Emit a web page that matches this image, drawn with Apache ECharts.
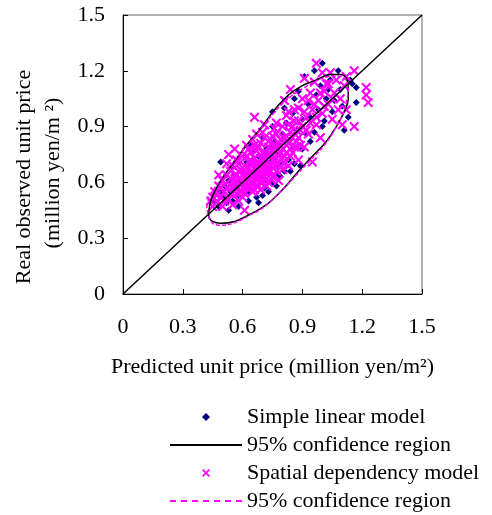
<!DOCTYPE html>
<html>
<head>
<meta charset="utf-8">
<script src="https://cdn.jsdelivr.net/npm/echarts@6/dist/echarts.min.js"></script>
<style>
  html, body { margin: 0; padding: 0; background: #fff; }
  #chart { width: 492px; height: 515px; }
</style>
</head>
<body>
<div id="chart"></div>
<script>
// axis ticks
const ticks = [0, 0.3, 0.6, 0.9, 1.2, 1.5];

// Simple linear model: [predicted, observed]
const linearPts = [
  [0.46,0.50],[0.48,0.47],[0.49,0.55],[0.50,0.52],[0.51,0.58],[0.52,0.49],[0.53,0.61],[0.54,0.55],
  [0.55,0.50],[0.56,0.64],[0.57,0.57],[0.58,0.53],[0.59,0.60],[0.49,0.71],[0.55,0.68],[0.60,0.66],
  [0.58,0.47],[0.53,0.45],[0.61,0.58],[0.62,0.63],[0.63,0.55],[0.64,0.70],[0.65,0.60],[0.66,0.66],
  [0.67,0.52],[0.68,0.74],[0.69,0.62],[0.70,0.68],[0.71,0.57],[0.72,0.78],[0.73,0.65],[0.74,0.71],
  [0.75,0.60],[0.76,0.82],[0.77,0.69],[0.78,0.75],[0.79,0.63],[0.80,0.86],[0.62,0.71],[0.66,0.77],
  [0.70,0.84],[0.73,0.55],[0.77,0.58],[0.81,0.66],[0.68,0.49],[0.64,0.80],[0.75,0.90],[0.71,0.73],
  [0.67,0.69],[0.74,0.79],[0.79,0.71],[0.83,0.72],[0.86,0.70],[0.85,0.78],[0.89,0.69],[0.82,0.92],
  [0.84,0.83],[0.85,0.97],[0.87,0.88],[0.88,1.09],[0.90,0.94],[0.91,1.17],[0.92,0.86],[0.93,1.02],
  [0.94,0.95],[0.96,1.20],[0.96,0.87],[0.97,1.07],[0.98,0.99],[0.99,1.12],[1.00,1.24],[1.01,0.93],
  [1.02,1.05],[1.04,1.15],[1.05,0.98],[1.06,1.04],[1.08,1.20],[1.09,1.10],[1.10,1.01],[1.11,0.88],
  [1.13,0.95],[1.15,1.13],[1.17,1.11],[1.17,1.03],[1.14,1.15],[0.90,0.78],[0.94,0.82],[1.00,0.90],
  [0.81,1.00],[0.75,0.98],[0.86,1.05],[1.03,1.10],[0.72,0.61],[0.78,0.64],[0.84,0.66],[0.70,0.53],
  [0.63,0.50]
];

// Spatial dependency model: [predicted, observed]
const spatialPts = [
  [0.44,0.50],[0.45,0.47],[0.45,0.52],[0.46,0.55],[0.47,0.49],[0.48,0.58],[0.49,0.52],[0.50,0.61],
  [0.50,0.47],[0.51,0.55],[0.52,0.64],[0.53,0.51],[0.53,0.75],[0.54,0.58],[0.55,0.69],[0.55,0.48],
  [0.56,0.62],[0.57,0.54],[0.57,0.72],[0.58,0.66],[0.59,0.59],[0.60,0.74],[0.60,0.52],[0.48,0.64],
  [0.52,0.70],[0.56,0.78],[0.58,0.50],[0.61,0.45],[0.61,0.63],[0.62,0.68],[0.62,0.57],[0.63,0.78],
  [0.63,0.61],[0.64,0.65],[0.64,0.72],[0.65,0.55],[0.65,0.83],[0.66,0.62],[0.66,0.95],[0.67,0.70],
  [0.67,0.58],[0.68,0.66],[0.68,0.79],[0.69,0.73],[0.69,0.60],[0.70,0.64],[0.70,0.87],[0.71,0.69],
  [0.71,0.76],[0.72,0.58],[0.72,0.66],[0.73,0.82],[0.73,0.70],[0.74,0.62],[0.74,0.75],[0.75,0.68],
  [0.75,0.85],[0.76,0.64],[0.76,0.72],[0.77,0.79],[0.77,0.92],[0.78,0.70],[0.78,0.61],[0.79,0.83],
  [0.79,0.76],[0.80,0.67],[0.80,0.90],[0.81,0.74],[0.82,0.80],[0.82,0.96],[0.83,0.69],[0.84,0.87],
  [0.84,1.10],[0.85,0.76],[0.86,0.93],[0.87,0.82],[0.88,1.00],[0.88,0.72],[0.89,0.88],[0.90,1.05],
  [0.91,0.79],[0.91,1.16],[0.92,0.95],[0.93,0.86],[0.94,1.08],[0.95,0.71],[0.95,0.99],[0.96,1.14],
  [0.97,1.24],[0.97,0.91],[0.98,1.04],[0.99,0.84],[1.00,1.19],[1.00,0.97],[1.01,1.09],[1.02,1.13],
  [1.03,1.02],[1.04,1.19],[1.05,0.94],[1.06,1.08],[1.07,1.15],[1.08,0.99],[1.09,1.05],[1.10,0.91],
  [1.11,1.12],[1.12,1.17],[1.16,1.20],[1.16,0.90],[1.22,1.11],[1.23,1.03],[1.22,1.07],[1.12,0.99],
  [0.87,0.79],[0.83,0.98],[0.76,0.89],[0.81,1.04],[0.67,0.86],[0.71,0.91],[0.62,0.80],[0.66,0.67],
  [0.69,0.68],[0.72,0.72],[0.74,0.69],[0.68,0.63],[0.70,0.72],[0.73,0.66],[0.76,0.76],[0.64,0.60],
  [0.60,0.64],[0.58,0.62],[0.62,0.60],[0.65,0.70],[0.71,0.63],[0.77,0.73],[0.79,0.80],[0.75,0.78],
  [0.82,0.85],[0.85,0.90],[0.88,0.84],[0.47,0.53],[0.49,0.57],[0.51,0.50],[0.52,0.57],[0.54,0.62],
  [0.55,0.54],[0.56,0.58],[0.57,0.64],[0.58,0.70],[0.59,0.55],[0.59,0.67],[0.60,0.60],[0.61,0.69],
  [0.61,0.54],[0.62,0.65],[0.63,0.58],[0.63,0.71],[0.64,0.63],[0.64,0.76],[0.65,0.66],[0.65,0.59],
  [0.66,0.73],[0.66,0.56],[0.67,0.64],[0.67,0.77],[0.68,0.70],[0.68,0.58],[0.69,0.65],[0.69,0.81],
  [0.70,0.60],[0.70,0.76],[0.71,0.66],[0.71,0.84],[0.72,0.69],[0.72,0.62],[0.73,0.75],[0.73,0.60],
  [0.74,0.66],[0.74,0.83],[0.75,0.72],[0.75,0.63],[0.76,0.69],[0.76,0.80],[0.77,0.66],[0.77,0.86],
  [0.78,0.74],[0.78,0.81],[0.79,0.68],[0.80,0.78],[0.80,0.73],[0.81,0.84],[0.81,0.70],[0.82,0.76],
  [0.83,0.91],[0.83,0.81],[0.84,0.74],[0.85,0.84],[0.86,0.79],[0.86,0.99],[0.87,0.88],[0.88,0.93],
  [0.89,0.80],[0.90,0.90],[0.91,0.98],[0.92,0.88],[0.93,1.04],[0.94,0.92],[0.96,1.02],[0.97,0.95],
  [0.99,1.08],[1.01,1.01],[1.03,1.13],[1.05,1.05],[0.54,0.66],[0.57,0.60],[0.60,0.57],[0.62,0.74],
  [0.66,0.80],[0.69,0.56],[0.73,0.79]
];

// 95% confidence region outlines
const linearRegion = [
  [0.43,0.44],[0.44,0.50],[0.46,0.55],[0.49,0.61],[0.55,0.70],[0.62,0.80],[0.69,0.89],[0.76,0.99],
  [0.83,1.07],[0.90,1.12],[0.97,1.15],[1.04,1.18],[1.09,1.18],[1.12,1.16],[1.13,1.11],[1.13,1.05],
  [1.11,0.98],[1.07,0.90],[1.02,0.82],[0.95,0.74],[0.88,0.66],[0.80,0.56],[0.72,0.48],[0.64,0.43],
  [0.56,0.39],[0.49,0.38],[0.45,0.39],[0.43,0.42],[0.43,0.44]
];
const spatialRegion = [
  [0.42,0.47],[0.43,0.52],[0.46,0.57],[0.50,0.63],[0.56,0.72],[0.63,0.81],[0.70,0.90],[0.77,0.99],
  [0.84,1.06],[0.91,1.11],[0.98,1.15],[1.04,1.17],[1.09,1.17],[1.12,1.15],[1.13,1.10],[1.12,1.03],
  [1.10,0.96],[1.06,0.88],[1.01,0.80],[0.94,0.72],[0.87,0.64],[0.79,0.55],[0.71,0.47],[0.63,0.42],
  [0.55,0.38],[0.49,0.37],[0.45,0.38],[0.43,0.42],[0.42,0.47]
];

// 45 degree reference line
const diagonal = [[0, 0], [1.5, 1.5]];

const FONT = 'Liberation Serif';
const xMark = 'path://M0,1.8L1.8,0L6,4.2L10.2,0L12,1.8L7.8,6L12,10.2L10.2,12L6,7.8L1.8,12L0,10.2L4.2,6Z';
const dotMark = 'path://M5,0L10,5L5,10L0,5Z';

const chart = echarts.init(document.getElementById('chart'));

const axisCommon = {
  type: 'value',
  min: ticks[0],
  max: ticks[ticks.length - 1],
  interval: 0.3,
  axisLine: { show: true, lineStyle: { color: '#000', width: 1 } },
  axisTick: { show: true, inside: true, length: 5, lineStyle: { color: '#000' } },
  splitLine: { show: false },
};

chart.setOption({
  animation: false,
  backgroundColor: '#fff',
  textStyle: { fontFamily: FONT },
  grid: {
    left: 123, top: 15, right: 70, bottom: 221,
    show: true, borderColor: '#666', borderWidth: 1,
    outerBoundsMode: 'none',
  },
  xAxis: Object.assign({}, axisCommon, {
    axisLabel: { margin: 22, color: '#000', fontSize: 22, fontFamily: FONT },
    name: 'Predicted unit price (million yen/m²)',
    nameLocation: 'middle',
    nameGap: 62,
    nameTextStyle: { color: '#000', fontSize: 22, fontFamily: FONT },
  }),
  yAxis: Object.assign({}, axisCommon, {
    axisLabel: { margin: 18, color: '#000', fontSize: 22, fontFamily: FONT },
  }),
  graphic: [
    {
      type: 'text', x: 24, y: 177, rotation: Math.PI / 2,
      style: { text: 'Real observed unit price', align: 'center', verticalAlign: 'middle',
               font: '22px "Liberation Serif"', fill: '#000' },
    },
    {
      type: 'text', x: 53, y: 173, rotation: Math.PI / 2,
      style: { text: '(million yen/m ²)', align: 'center', verticalAlign: 'middle',
               font: '22px "Liberation Serif"', fill: '#000' },
    },
  ],
  legend: {
    orient: 'vertical',
    left: 170,
    top: 406,
    itemWidth: 72,
    itemHeight: 8,
    itemGap: 6,
    padding: 0,
    textStyle: { color: '#000', fontSize: 22, fontFamily: FONT },
    formatter: function (name) {
      return name.replace(/ \((linear|spatial)\)$/, '');
    },
    data: [
      { name: 'Simple linear model', icon: dotMark },
      { name: '95% confidence region (linear)', icon: 'path://M0,0H72V2H0Z' },
      { name: 'Spatial dependency model', icon: xMark },
      { name: '95% confidence region (spatial)',
        icon: 'path://M0,0h6v2h-6zM11,0h6v2h-6zM22,0h6v2h-6zM33,0h6v2h-6zM44,0h6v2h-6zM55,0h6v2h-6zM66,0h6v2h-6z' },
    ],
  },
  series: [
    {
      name: 'Simple linear model',
      type: 'scatter',
      data: linearPts,
      symbol: 'diamond',
      symbolSize: 7,
      itemStyle: { color: '#000080', opacity: 1 },
      z: 2,
    },
    {
      name: '95% confidence region (linear)',
      type: 'line',
      data: linearRegion,
      smooth: 0.4,
      symbol: 'none',
      itemStyle: { color: '#000' },
      lineStyle: { color: '#000', width: 1.5 },
      z: 5,
    },
    {
      name: 'Spatial dependency model',
      type: 'scatter',
      data: spatialPts,
      symbol: xMark,
      symbolSize: 10,
      itemStyle: { color: '#ff00ff', opacity: 1 },
      z: 3,
    },
    {
      name: '95% confidence region (spatial)',
      type: 'line',
      data: spatialRegion,
      smooth: 0.4,
      symbol: 'none',
      itemStyle: { color: '#ff00ff' },
      lineStyle: { color: '#ff00ff', width: 1.5, type: [4, 2] },
      z: 6,
    },
    {
      name: 'diagonal',
      type: 'line',
      data: diagonal,
      symbol: 'none',
      lineStyle: { color: '#000', width: 1.5 },
      z: 7,
    },
  ],
});
</script>
</body>
</html>
